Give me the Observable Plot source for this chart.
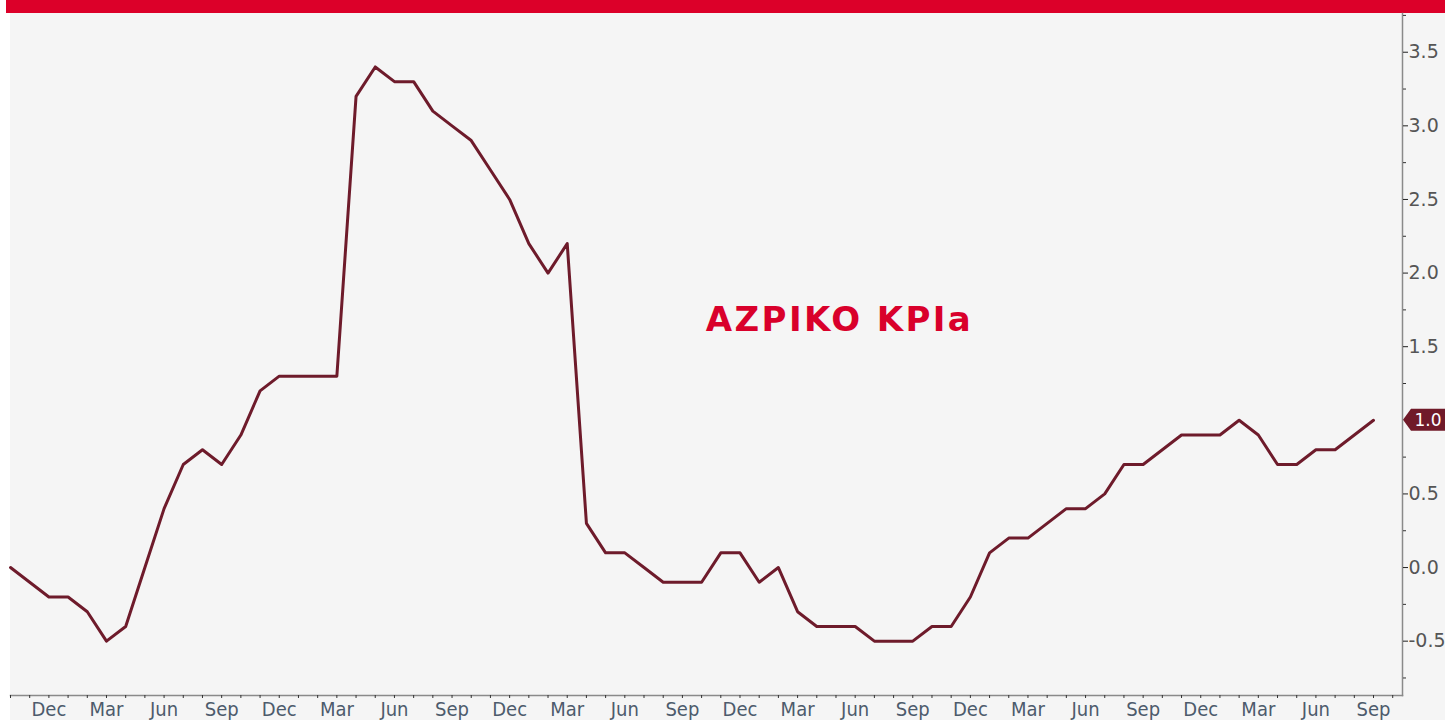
<!DOCTYPE html>
<html><head><meta charset="utf-8">
<script src="https://cdn.jsdelivr.net/npm/d3@7"></script>
<script src="https://cdn.jsdelivr.net/npm/@observablehq/plot@0.6"></script>
<style>
html,body{margin:0;padding:0;background:#fff;overflow:hidden;}
#bar{margin-left:6px;height:13px;background:#dc0029;}
#chart{margin-left:10px;line-height:0;}
</style></head><body>
<div id="bar"></div><div id="chart"></div>
<script>
const months = [
 "Oct 2014","Nov 2014","Dec 2014",
 "Jan 2015","Feb 2015","Mar 2015","Apr 2015","May 2015","Jun 2015","Jul 2015","Aug 2015","Sep 2015","Oct 2015","Nov 2015","Dec 2015",
 "Jan 2016","Feb 2016","Mar 2016","Apr 2016","May 2016","Jun 2016","Jul 2016","Aug 2016","Sep 2016","Oct 2016","Nov 2016","Dec 2016",
 "Jan 2017","Feb 2017","Mar 2017","Apr 2017","May 2017","Jun 2017","Jul 2017","Aug 2017","Sep 2017","Oct 2017","Nov 2017","Dec 2017",
 "Jan 2018","Feb 2018","Mar 2018","Apr 2018","May 2018","Jun 2018","Jul 2018","Aug 2018","Sep 2018","Oct 2018","Nov 2018","Dec 2018",
 "Jan 2019","Feb 2019","Mar 2019","Apr 2019","May 2019","Jun 2019","Jul 2019","Aug 2019","Sep 2019","Oct 2019","Nov 2019","Dec 2019",
 "Jan 2020","Feb 2020","Mar 2020","Apr 2020","May 2020","Jun 2020","Jul 2020","Aug 2020","Sep 2020"
];
const values = [
  0.0,-0.1,-0.2,-0.2,-0.3,-0.5,-0.4, 0.0, 0.4, 0.7, 0.8, 0.7,
  0.9, 1.2, 1.3, 1.3, 1.3, 1.3, 3.2, 3.4, 3.3, 3.3, 3.1, 3.0,
  2.9, 2.7, 2.5, 2.2, 2.0, 2.2, 0.3, 0.1, 0.1, 0.0,-0.1,-0.1,
 -0.1, 0.1, 0.1,-0.1, 0.0,-0.3,-0.4,-0.4,-0.4,-0.5,-0.5,-0.5,
 -0.4,-0.4,-0.2, 0.1, 0.2, 0.2, 0.3, 0.4, 0.4, 0.5, 0.7, 0.7,
  0.8, 0.9, 0.9, 0.9, 1.0, 0.9, 0.7, 0.7, 0.8, 0.8, 0.9, 1.0
];
const yTicks = [-0.5, 0, 0.5, 1, 1.5, 2, 2.5, 3, 3.5];
const yMinorTicks = [-0.75, -0.25, 0.25, 0.75, 1.25, 1.75, 2.25, 2.75, 3.25, 3.75];
const labelMonths = ["Dec", "Mar", "Jun", "Sep"];
const annotation = "AZPIKO KPIa";

const W = 1435, H = 707;
const monthIdx = months.map((m, i) => i).concat([months.length]);
const quarterIdx = months.map((m, i) => i).filter(i => labelMonths.includes(months[i].slice(0, 3)));
const last = values[values.length - 1];
const labeledTicks = yTicks.filter(v => v !== last);

function tagMark(index, scales, channels, dims) {
  const y = scales.y(last);
  const x0 = dims.width - dims.marginRight + 1;
  const g = d3.create("svg:g");
  g.append("path")
    .attr("d", `M${x0},${y} L${x0 + 8},${y - 11} L${dims.width + 5},${y - 11} L${dims.width + 5},${y + 11} L${x0 + 8},${y + 11} Z`)
    .attr("fill", "#701a29");
  g.append("text")
    .attr("x", (x0 + 8 + dims.width) / 2).attr("y", y).attr("dy", "0.36em")
    .attr("text-anchor", "middle")
    .attr("fill", "#ffffff").attr("font-size", 17).attr("font-family", "DejaVu Sans")
    .text(last.toFixed(1));
  return g.node();
}

const plot = Plot.plot({
  width: W, height: H,
  marginLeft: 0, marginRight: 43, marginTop: 0, marginBottom: 25,
  style: {background: "#f5f5f5", overflow: "visible", fontFamily: "DejaVu Sans"},
  x: {type: "linear", domain: [0, 72.51]},
  y: {domain: [-0.869, 3.763]},
  marks: [
    Plot.frame({anchor: "bottom", stroke: "#8a8a8a", strokeWidth: 1.5}),
    Plot.frame({anchor: "right", stroke: "#8a8a8a", strokeWidth: 1.5}),
    Plot.axisY(yMinorTicks, {anchor: "right", tickSize: 3, stroke: "#333", tickFormat: () => "", label: null}),
    Plot.axisY(labeledTicks, {anchor: "right", tickSize: 5, tickPadding: 1, stroke: "#222", fill: "#555", fontSize: 19, tickFormat: d => d.toFixed(1), label: null}),
    Plot.axisX(monthIdx, {anchor: "bottom", tickSize: 3, stroke: "#333", tickFormat: () => "", label: null}),
    Plot.axisX(quarterIdx, {anchor: "bottom", tickSize: 0, tickPadding: 6, fill: "#4d5b6c", fontSize: 20, fontFamily: "DejaVu Sans Condensed, Noto Sans, sans-serif", tickFormat: i => months[i].slice(0, 3), label: null}),
    Plot.line(values, {x: (d, i) => i, y: d => d, stroke: "#6e1b2b", strokeWidth: 3}),
    Plot.text([annotation], {frameAnchor: "middle", dx: 133, dy: -34, fill: "#d9002b", fontSize: 34, fontWeight: "bold", fontFamily: "DejaVu Sans"}),
    tagMark
  ]
});
plot.querySelectorAll("text").forEach(t => {
  if (t.textContent === annotation) t.setAttribute("letter-spacing", "2.4");
});
document.getElementById("chart").appendChild(plot);
</script>
</body></html>
